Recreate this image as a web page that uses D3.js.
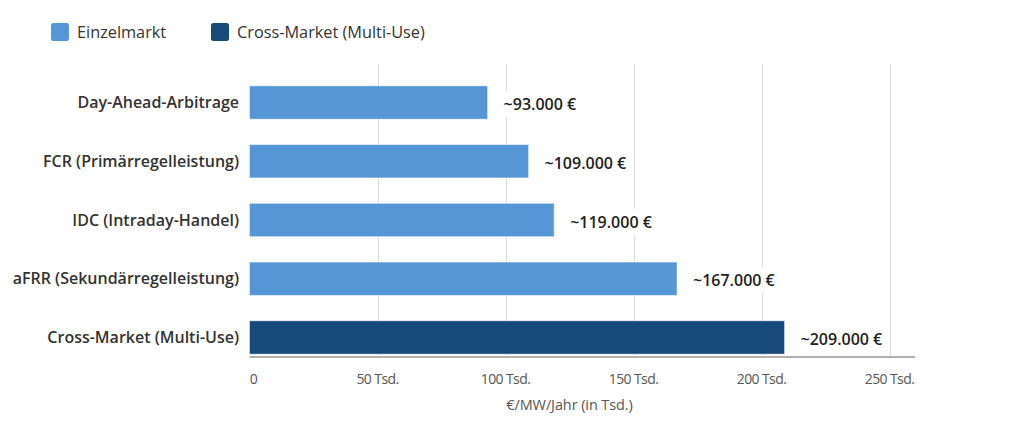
<!DOCTYPE html>
<html><head><meta charset="utf-8">
<script src="https://cdn.jsdelivr.net/npm/d3@7"></script>
<style>
html,body{margin:0;padding:0;background:#fff;}
svg{display:block;font-family:"Open Sans","Noto Sans",sans-serif;}
</style></head>
<body>
<svg id="chart" width="1024" height="435"></svg>
<script>
const categories = ["Day-Ahead-Arbitrage","FCR (Primärregelleistung)","IDC (Intraday-Handel)","aFRR (Sekundärregelleistung)","Cross-Market (Multi-Use)"];
const values = [93, 109, 119, 167, 209];
const valueLabels = ["~93.000 €","~109.000 €","~119.000 €","~167.000 €","~209.000 €"];
const seriesOf = ["Einzelmarkt","Einzelmarkt","Einzelmarkt","Einzelmarkt","Cross-Market (Multi-Use)"];
const legendItems = ["Einzelmarkt","Cross-Market (Multi-Use)"];
const tickValues = [0, 50, 100, 150, 200, 250];
const tickLabels = ["0","50 Tsd.","100 Tsd.","150 Tsd.","200 Tsd.","250 Tsd."];
const axisTitle = "€/MW/Jahr (in Tsd.)";

const colors = d3.scaleOrdinal().domain(legendItems).range(["#5597d6","#164a7b"]);
const svg = d3.select("#chart");

const x = d3.scaleLinear().domain([0, 250]).range([249.5, 889.5]);
const y = d3.scaleBand().domain(categories).range([80, 360]).paddingInner(0.433).paddingOuter(0.1);
const gridTop = 64, axisY = 357;

// gridlines
svg.append("g").selectAll("line").data(tickValues.slice(1)).join("line")
  .attr("x1", d => Math.round(x(d)) + 0.5).attr("x2", d => Math.round(x(d)) + 0.5)
  .attr("y1", gridTop).attr("y2", axisY)
  .attr("stroke", "#dcdcdc").attr("stroke-width", 1);

// bars
svg.append("g").selectAll("rect").data(categories).join("rect")
  .attr("x", x(0)).attr("y", d => y(d))
  .attr("width", (d, i) => x(values[i]) - x(0))
  .attr("height", y.bandwidth())
  .attr("fill", (d, i) => colors(seriesOf[i]))
  .attr("stroke", "rgba(255,255,255,0.45)").attr("stroke-width", 1);

// axis line
svg.append("line").attr("x1", x(0)).attr("x2", 915).attr("y1", axisY).attr("y2", axisY)
  .attr("stroke", "#b0b0b0").attr("stroke-width", 2);

// category labels
svg.append("g").selectAll("text").data(categories).join("text")
  .attr("x", 239).attr("y", d => y(d) + y.bandwidth() / 2)
  .attr("dy", "0.35em").attr("text-anchor", "end")
  .attr("font-size", 16).attr("font-weight", 600).attr("fill", "#333")
  .text(d => d);

// value labels with white backgrounds
const vl = svg.append("g").selectAll("g").data(categories).join("g")
  .attr("transform", (d, i) => `translate(${x(values[i]) + 16},${y(d) + y.bandwidth() / 2 + 2})`);
vl.append("rect").attr("class", "bg").attr("fill", "#fff");
vl.append("text").attr("dy", "0.35em")
  .attr("font-size", 16).attr("font-weight", 600).attr("fill", "#222")
  .text((d, i) => valueLabels[i]);
vl.each(function() {
  const g = d3.select(this);
  const bb = g.select("text").node().getBBox();
  g.select("rect").attr("x", bb.x - 3).attr("y", bb.y - 2).attr("width", bb.width + 6).attr("height", bb.height + 4);
});

// tick labels
svg.append("g").selectAll("text").data(tickValues).join("text")
  .attr("x", (d, i) => i === 0 ? x(d) + 4 : x(d))
  .attr("y", 379.5).attr("dy", "0.35em")
  .attr("text-anchor", "middle")
  .attr("font-size", 14).attr("letter-spacing", -0.6).attr("fill", "#555")
  .text((d, i) => tickLabels[i]);

// axis title
svg.append("text").attr("x", (x(0) + x(250)) / 2).attr("y", 405).attr("dy", "0.35em")
  .attr("text-anchor", "middle").attr("font-size", 14.5).attr("letter-spacing", -0.1).attr("fill", "#555")
  .text(axisTitle);

// legend
const legX = [51, 211];
const lg = svg.append("g").selectAll("g").data(legendItems).join("g")
  .attr("transform", (d, i) => `translate(${legX[i]},23)`);
lg.append("rect").attr("width", 18).attr("height", 18).attr("rx", 2.5)
  .attr("fill", d => colors(d));
lg.append("text").attr("x", 26).attr("y", 9).attr("dy", "0.35em")
  .attr("font-size", 16.3).attr("fill", "#333").text(d => d);
</script>
</body></html>
